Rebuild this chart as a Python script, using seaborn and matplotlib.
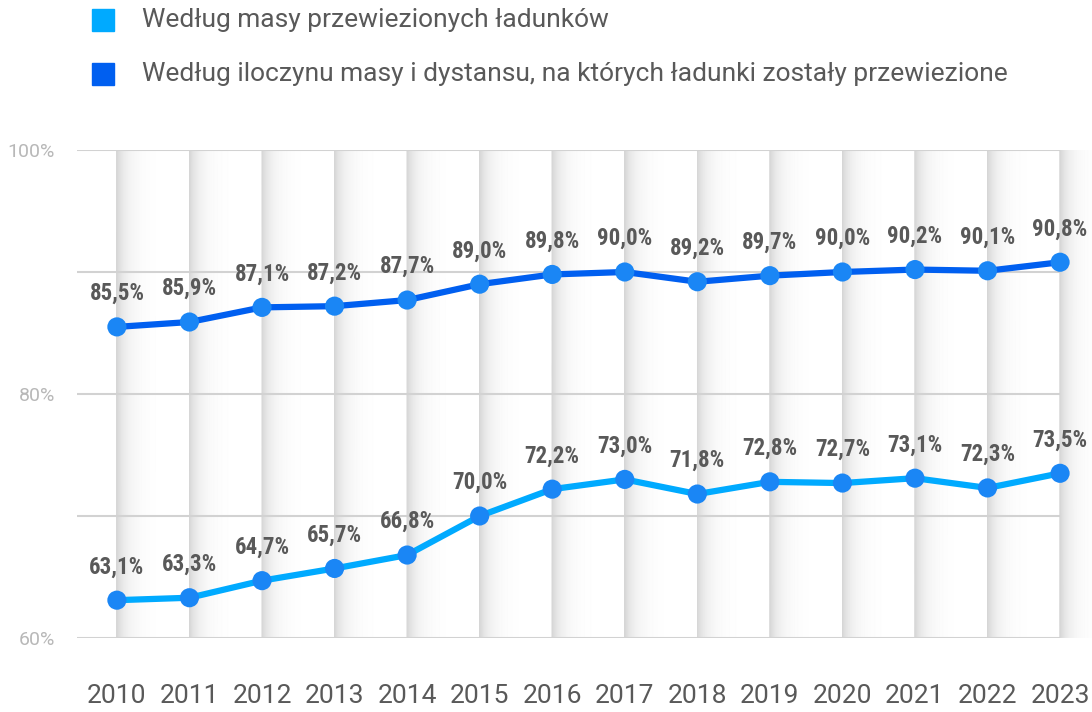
import numpy as np
import pandas as pd
import matplotlib
matplotlib.use("Agg")
import matplotlib.pyplot as plt
import seaborn as sns
from matplotlib.patches import Rectangle
from matplotlib import font_manager as fm

# dane
years = list(range(2010, 2024))
masa = [63.1, 63.3, 64.7, 65.7, 66.8, 70.0, 72.2, 73.0, 71.8, 72.8, 72.7, 73.1, 72.3, 73.5]
masa_dystans = [85.5, 85.9, 87.1, 87.2, 87.7, 89.0, 89.8, 90.0, 89.2, 89.7, 90.0, 90.2, 90.1, 90.8]
series_names = ["Według masy przewiezionych ładunków",
                "Według iloczynu masy i dystansu, na których ładunki zostały przewiezione"]
y_ticks = [60, 80, 100]
y_grid = [60, 70, 80, 90, 100]

col_light = "#00aaff"
col_dark = "#005ff0"
col_marker = "#1a86f5"
col_text = "#595959"

df = pd.DataFrame({"rok": years * 2,
                   "udzial": masa + masa_dystans,
                   "seria": [series_names[0]] * len(years) + [series_names[1]] * len(years)})

sns.set_style("white")
plt.rcParams["font.family"] = ["Roboto", "DejaVu Sans"]

# waska czcionka do etykiet, jesli jest
installed = {f.name: f for f in fm.fontManager.ttflist}
label_font = dict(family="Roboto", fontsize=14.5, fontweight="bold")
for name in ["Roboto Condensed", "Liberation Sans Narrow", "Open Sans Condensed"]:
    if name in installed:
        label_font = dict(family=name, fontsize=16.5, fontweight="bold")
        break

fig = plt.figure(figsize=(10.92, 7.12), dpi=100)
ax = fig.add_axes([77 / 1092, 74 / 712, 1015 / 1092, 488 / 712])

x0, x1 = years[0] - 0.55, years[-1] + 0.44

# gradientowe pasy: szary tuz za linia roku, dalej w prawo blednie do bieli
xs = np.linspace(years[0], x1, 3000)
dist = (xs - np.floor(xs)) * 72.5
shade = 1 - 0.15 * np.exp(-dist / 9) - 0.015 * np.clip(1 - dist / 45, 0, 1)
ax.pcolormesh(xs, [60, 100], np.vstack([shade, shade]), cmap="gray", vmin=0, vmax=1,
              shading="gouraud", zorder=0, rasterized=True)
ax.set_xlim(x0, x1)
ax.set_ylim(60, 100)

ax.hlines(y_grid, x0, years[-1], color="#d2d2d2", lw=1.5, zorder=1)

palette = {series_names[0]: col_light, series_names[1]: col_dark}
sns.lineplot(data=df, x="rok", y="udzial", hue="seria", palette=palette, lw=4.5,
             legend=False, ax=ax, zorder=2)
ax.scatter(years + years, masa + masa_dystans, s=190, color=col_marker,
           edgecolor="none", zorder=3)

for vals in (masa, masa_dystans):
    for yr, v in zip(years, vals):
        ax.annotate(f"{v:.1f}%".replace(".", ","), (yr, v), xytext=(0, 24),
                    textcoords="offset points", ha="center", va="center",
                    color=col_text, zorder=4, **label_font)

ax.set_xticks(years)
ax.set_xticklabels([str(y) for y in years], fontsize=19, color=col_text)
ax.set_yticks(y_ticks)
ax.set_yticklabels([f"{t}%" for t in y_ticks], fontsize=14, color="#b8b8b8")
ax.tick_params(axis="x", length=0, pad=33)
ax.tick_params(axis="y", length=0, pad=16)
ax.set_xlabel("")
ax.set_ylabel("")
for s in ax.spines.values():
    s.set_visible(False)
ax.grid(False)

# legenda
for i, (name, c) in enumerate(zip(series_names, [col_light, col_dark])):
    yc = 712 - (20 + 54 * i)
    fig.patches.append(Rectangle((92 / 1092, (yc - 11) / 712), 22 / 1092, 22 / 712,
                                 transform=fig.transFigure, color=c))
    fig.text(142 / 1092, yc / 712, name, fontsize=19, color=col_text, va="center", ha="left")

fig.savefig("out.png", dpi=100)
